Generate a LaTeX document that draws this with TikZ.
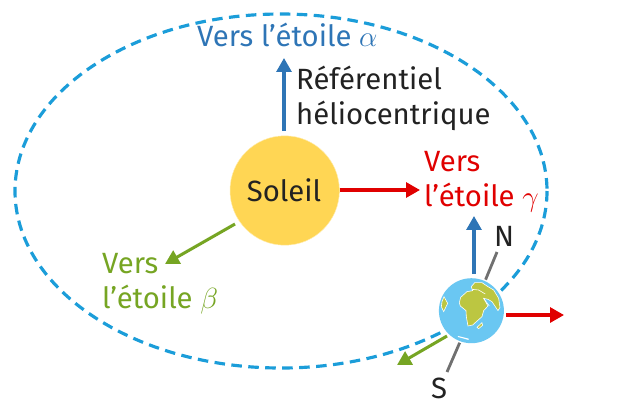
\documentclass[tikz,border=0pt]{standalone}
\usepackage{amsmath}
\usepackage{fontspec}
\setmainfont{Fira Sans}
\usetikzlibrary{arrows.meta}

\definecolor{bluearrow}{HTML}{2E75B6}
\definecolor{redarrow}{HTML}{E00000}
\definecolor{greenarrow}{HTML}{76A523}
\definecolor{orbitblue}{HTML}{1B9DD9}
\definecolor{seablue}{HTML}{6AC7F2}
\definecolor{landgreen}{HTML}{BCC641}
\definecolor{axisgrey}{HTML}{707070}
\definecolor{textblack}{HTML}{222222}
\definecolor{sunedge}{HTML}{FFEDB0}

\pgfdeclareradialshading{sunshade}{\pgfpoint{0bp}{0bp}}{
  rgb(0bp)=(1,.84,.33);
  rgb(41bp)=(1,.84,.33);
  rgb(47bp)=(1,.88,.48);
  rgb(50bp)=(1,.96,.80)}

\tikzset{
  label/.style={font=\fontsize{25}{29.8}\selectfont, inner sep=0pt, align=left, anchor=base west},
  fleche/.style={line width=2.6pt, -{Triangle[length=14*0.85pt, width=15*0.85pt]}},
  axe/.style={line width=2.4pt, axisgrey},
  contour/.style={fill=landgreen, draw=white, line width=0.5pt}
}

\begin{document}
\begin{tikzpicture}[x=0.03cm, y=-0.03cm]
\useasboundingbox (0,0) rectangle (626,409);

\draw[orbitblue, line width=2.7pt, dash pattern=on 9pt off 5.5pt] (281,191) ellipse [x radius=266, y radius=177];

% Soleil
\shade[shading=sunshade] (284.7,190.5) circle (54.7);
\draw[sunedge, line width=0.4pt] (284.7,190.5) circle (54.7);
\node[label, textblack, anchor=center] (soleil) at (284,190) {Soleil};
\coordinate (sa) at (284,131);
\coordinate (sb) at (284,58);
\coordinate (sc) at (340,190);
\coordinate (sd) at (420,190);
\coordinate (se) at (235,224);
\coordinate (sf) at (165,264);
\draw[fleche, bluearrow] (sa) -- (sb);
\draw[fleche, redarrow] (sc) -- (sd);
\draw[fleche, greenarrow] (se) -- (sf);

% Terre
\coordinate (terre) at (471.4,310.7);
\coordinate (na) at (497,252);
\coordinate (nb) at (485,281);
\coordinate (nc) at (460,342);
\coordinate (nd) at (447,372);
\draw[axe] (na) -- (nb);
\draw[axe] (nc) -- (nd);
\coordinate (ta) at (474,274);
\coordinate (tb) at (474,216);
\coordinate (tc) at (506,315);
\coordinate (td) at (564,315);
\coordinate (te) at (447,336);
\coordinate (tf) at (397,365);
\draw[fleche, bluearrow] (ta) -- (tb);
\draw[fleche, redarrow] (tc) -- (td);
\draw[fleche, greenarrow] (te) -- (tf);

\fill[white] (terre) circle (34);
\fill[seablue] (terre) circle (32.5);
\begin{scope}
\clip (terre) circle (32.5);
\begin{scope}[shift={(432,270)}, x=0.01cm, y=-0.01cm]
\path[contour] (82,98) -- (86,82) -- (105,65) -- (122,62) -- (118,50) -- (128,38) -- (150,38)
  -- (168,50) -- (185,60) -- (200,85) -- (204,112) -- (198,122) -- (190,110) -- (180,95)
  -- (168,88) -- (155,85) -- (168,108) -- (155,122) -- (150,140) -- (122,165) -- (108,168)
  -- (103,140) -- (102,122) -- (85,108) -- cycle;
\path[contour] (36,80) -- (47,100) -- (35,125) -- (28,110) -- (30,95) -- cycle;
\draw[white, line width=0.5pt] (120,58) -- (140,60) -- (160,72);
\draw[white, line width=0.5pt] (155,85) -- (172,108);
\path[contour] (135,172) -- (150,158) -- (152,166) -- (140,176) -- cycle;
\fill[white] (78,198) -- (110,206) -- (110,210) -- (78,201) -- cycle;
\end{scope}
\end{scope}

% textes
\node[label, bluearrow] (alpha) at (197,46) {Vers l’étoile $\alpha$};
\node[label, textblack] (ref) at (296,124) {Référentiel\\héliocentrique};
\node[label, redarrow] (gamma) at (424,206) {Vers\\l’étoile $\gamma$};
\node[label, greenarrow] (beta) at (102,308) {Vers\\l’étoile $\beta$};
\node[label, textblack] (n) at (494,246) {N};
\node[label, textblack] (s) at (431,398) {S};
\end{tikzpicture}
\end{document}
